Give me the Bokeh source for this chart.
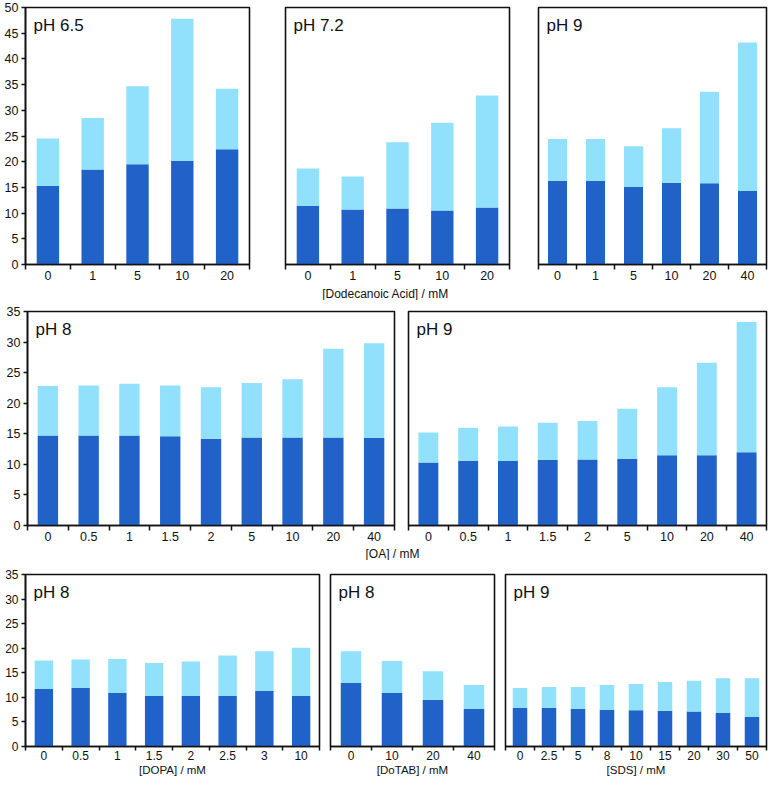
from bokeh.plotting import figure
from bokeh.models import Range1d, FixedTicker, SingleIntervalTicker, Label, ColumnDataSource
from bokeh.layouts import column, row
from bokeh.embed import file_html
from bokeh.resources import INLINE

# ---------------- data ----------------
dd_labels = ["0", "1", "5", "10", "20"]
ph65_dark = [15.3, 18.5, 19.5, 20.2, 22.4]
ph65_total = [24.5, 28.5, 34.7, 47.8, 34.2]
ph72_dark = [11.4, 10.7, 10.9, 10.5, 11.1]
ph72_total = [18.7, 17.1, 23.8, 27.6, 32.9]
dd9_labels = ["0", "1", "5", "10", "20", "40"]
dd9_dark = [16.3, 16.3, 15.1, 15.9, 15.8, 14.3]
dd9_total = [24.4, 24.4, 23.0, 26.5, 33.6, 43.2]

oa_labels = ["0", "0.5", "1", "1.5", "2", "5", "10", "20", "40"]
oa8_dark = [14.7, 14.7, 14.7, 14.6, 14.2, 14.4, 14.4, 14.4, 14.3]
oa8_total = [22.8, 22.9, 23.2, 22.9, 22.6, 23.3, 23.9, 28.9, 29.8]
oa9_dark = [10.3, 10.6, 10.6, 10.7, 10.8, 10.9, 11.5, 11.5, 12.0]
oa9_total = [15.2, 16.0, 16.2, 16.8, 17.1, 19.1, 22.6, 26.6, 33.3]

dopa_labels = ["0", "0.5", "1", "1.5", "2", "2.5", "3", "10"]
dopa_dark = [11.7, 11.9, 10.9, 10.3, 10.3, 10.3, 11.3, 10.3]
dopa_total = [17.5, 17.7, 17.8, 17.0, 17.3, 18.5, 19.4, 20.1]
dotab_labels = ["0", "10", "20", "40"]
dotab_dark = [12.9, 10.9, 9.5, 7.7]
dotab_total = [19.4, 17.4, 15.3, 12.5]
sds_labels = ["0", "2.5", "5", "8", "10", "15", "20", "30", "50"]
sds_dark = [7.9, 7.9, 7.7, 7.5, 7.4, 7.3, 7.1, 6.8, 6.0]
sds_total = [11.9, 12.1, 12.1, 12.5, 12.7, 13.1, 13.4, 13.9, 13.9]

# ---------------- style ----------------
DARK = "#2162c9"
LIGHT = "#91e1fc"
FONT = "Liberation Sans"
INK = "#111111"


def panel(labels, dark, total, title, ymax, width, height, left, right, top, bottom,
          yaxis, tick_out, standoff, tick_font, xlabel=None):
    n = len(labels)
    p = figure(width=width, height=height, x_range=Range1d(-0.5, n - 0.5),
               y_range=Range1d(0, ymax), toolbar_location=None, output_backend="svg",
               min_border_left=left, min_border_right=right, min_border_top=top,
               min_border_bottom=bottom, y_axis_location="left" if yaxis else None)
    xs = list(range(n))
    src = ColumnDataSource(dict(x=xs, dark=dark, total=total))
    p.vbar(x="x", bottom=0, top="dark", width=0.5, fill_color=DARK, line_color=None, source=src)
    p.vbar(x="x", bottom="dark", top="total", width=0.5, fill_color=LIGHT, line_color=None, source=src)
    p.grid.visible = False
    p.outline_line_color = INK
    p.outline_line_width = 1.6
    p.background_fill_color = "white"
    p.border_fill_color = "white"

    ax = p.xaxis[0]
    ax.ticker = FixedTicker(ticks=xs, minor_ticks=[i - 0.5 for i in range(n + 1)])
    ax.major_label_overrides = {i: l for i, l in enumerate(labels)}
    ax.major_tick_line_color = None
    ax.major_tick_out = tick_out
    ax.major_tick_in = 0
    ax.minor_tick_line_color = INK
    ax.minor_tick_line_width = 1.5
    ax.minor_tick_out = tick_out
    ax.minor_tick_in = 0
    ax.axis_line_color = INK
    ax.axis_line_width = 1.6
    ax.major_label_standoff = standoff
    ax.major_label_text_font = FONT
    ax.major_label_text_font_size = tick_font
    ax.major_label_text_color = INK
    if xlabel:
        ax.axis_label = xlabel
        ax.axis_label_text_font = FONT
        ax.axis_label_text_font_size = "11.5px"
        ax.axis_label_text_font_style = "normal"
        ax.axis_label_text_color = INK
        ax.axis_label_standoff = 1

    if yaxis:
        ya = p.yaxis[0]
        ya.ticker = SingleIntervalTicker(interval=5, num_minor_ticks=0)
        ya.major_tick_out = 4
        ya.major_tick_in = 0
        ya.minor_tick_line_color = None
        ya.major_tick_line_color = INK
        ya.major_tick_line_width = 1.5
        ya.axis_line_color = INK
        ya.axis_line_width = 1.6
        ya.major_label_standoff = 3
        ya.major_label_text_font = FONT
        ya.major_label_text_font_size = tick_font
        ya.major_label_text_color = INK

    p.add_layout(Label(x=-0.5, y=ymax, x_offset=8, y_offset=-8, text=title,
                       text_baseline="top", text_align="left", text_font=FONT,
                       text_font_size="17px", text_color=INK))
    return p


def strip(text, cx, height):
    s = figure(width=768, height=height, x_range=Range1d(0, 768), y_range=Range1d(0, height),
               toolbar_location=None, output_backend="svg", min_border=0,
               x_axis_location=None, y_axis_location=None, outline_line_color=None)
    s.grid.visible = False
    s.add_layout(Label(x=cx, y=height / 2, text=text, text_align="center",
                       text_baseline="middle", text_font=FONT, text_font_size="12px",
                       text_color=INK))
    return s


# Row 1 : Dodecanoic acid
H1 = 7 + 257 + 22
r1 = row(
    panel(dd_labels, ph65_dark, ph65_total, "pH 6.5", 50, 251, H1, 25, 2, 7, 22, True, 5, 1, "12.5px"),
    panel(dd_labels, ph72_dark, ph72_total, "pH 7.2", 50, 260, H1, 34, 2, 7, 22, False, 5, 1, "12.5px"),
    panel(dd9_labels, dd9_dark, dd9_total, "pH 9", 50, 257, H1, 27, 2, 7, 22, False, 5, 1, "12.5px"),
)
s1 = strip("[Dodecanoic Acid] / mM", 385, 14)

# Row 2 : OA
H2 = 11 + 214 + 22
r2 = row(
    panel(oa_labels, oa8_dark, oa8_total, "pH 8", 35, 396, H2, 27, 2, 11, 22, True, 5, 1, "12.5px"),
    panel(oa_labels, oa9_dark, oa9_total, "pH 9", 35, 372, H2, 12, 2, 11, 22, False, 5, 1, "12.5px"),
)
s2 = strip("[OA] / mM", 392, 13)

# Row 3 : DOPA, DoTAB, SDS
H3 = 14 + 172 + 32
r3 = row(
    panel(dopa_labels, dopa_dark, dopa_total, "pH 8", 35, 321, H3, 25, 2, 14, 32, True, 4, 0, "12px", "[DOPA] / mM"),
    panel(dotab_labels, dotab_dark, dotab_total, "pH 8", 35, 175, H3, 9, 2, 14, 32, False, 4, 0, "12px", "[DoTAB] / mM"),
    panel(sds_labels, sds_dark, sds_total, "pH 9", 35, 272, H3, 9, 2, 14, 32, False, 4, 0, "12px", "[SDS] / mM"),
)

layout = column(r1, s1, r2, s2, r3)

open("out.html", "w").write(file_html(layout, INLINE))
